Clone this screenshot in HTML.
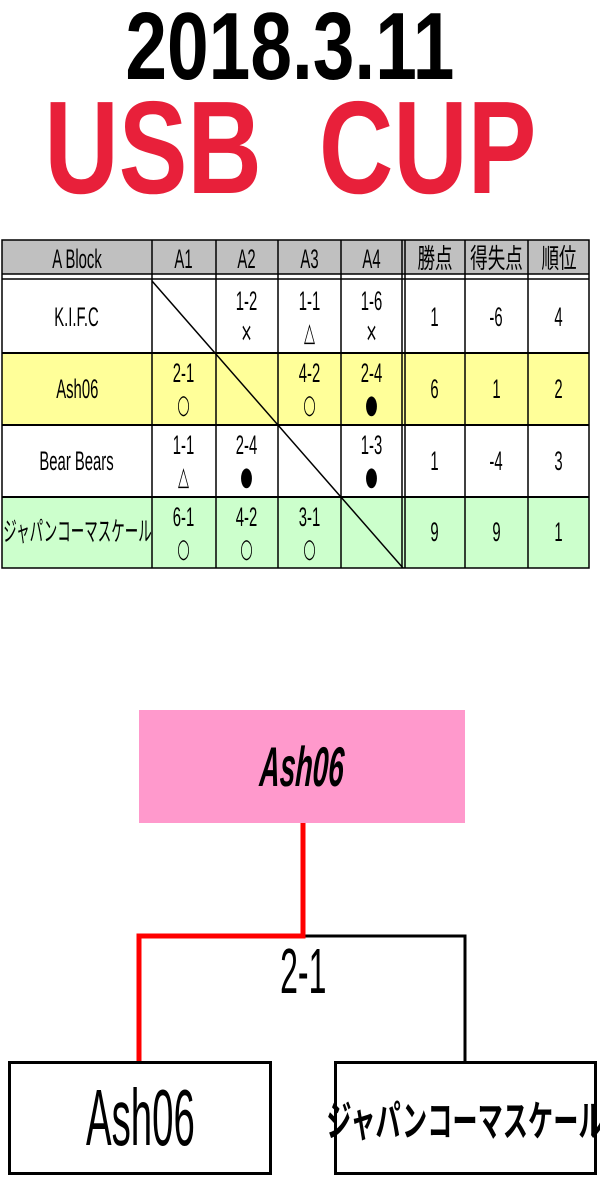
<!DOCTYPE html>
<html><head><meta charset="utf-8"><style>
body{margin:0;width:600px;height:1177px;background:#fff;position:relative;overflow:hidden;font-family:"Liberation Sans","Noto Sans CJK JP",sans-serif}
.a{position:absolute}
.c{position:absolute;display:flex;flex-direction:column;align-items:center;justify-content:center;text-align:center;white-space:nowrap}
.n{display:inline-block;transform:scaleX(.55)}
.t{font-size:27px;line-height:31px}
.s{font-size:26px;line-height:28px;font-family:"DejaVu Sans",sans-serif}
</style></head><body>
<div class="c" style="left:-110px;top:2px;width:800px;height:90px;font-weight:bold;font-size:96px"><span class="n" style="transform:scaleX(.78)">2018.3.11</span></div>
<div class="c" style="left:-100px;top:88px;width:780px;height:118px;font-weight:bold;font-size:132px;color:#e8203a"><span class="n" style="transform:scaleX(.78)">USB&nbsp;&nbsp;CUP</span></div>

<svg class="a" style="left:0;top:0" width="600" height="600">
<rect x="2" y="240" width="587" height="34" fill="#c0c0c0"/>
<rect x="2" y="281" width="587" height="72" fill="#fff"/>
<rect x="2" y="353" width="587" height="72" fill="#ffff99"/>
<rect x="2" y="425" width="587" height="72" fill="#fff"/>
<rect x="2" y="497" width="587" height="71" fill="#ccffcc"/>
<g stroke="#000" stroke-width="1.5" fill="none">
<rect x="2" y="240" width="587" height="328"/>
<line x1="2" y1="274" x2="589" y2="274"/>
<line x1="2" y1="279" x2="589" y2="279"/>
<line x1="2" y1="353" x2="589" y2="353" stroke-width="2"/>
<line x1="2" y1="425" x2="589" y2="425" stroke-width="2"/>
<line x1="2" y1="497" x2="589" y2="497" stroke-width="2"/>
<line x1="152" y1="240" x2="152" y2="568"/>
<line x1="216" y1="240" x2="216" y2="568"/>
<line x1="278" y1="240" x2="278" y2="568"/>
<line x1="341" y1="240" x2="341" y2="568"/>
<line x1="402" y1="240" x2="402" y2="568"/>
<line x1="405" y1="240" x2="405" y2="568"/>
<line x1="465" y1="240" x2="465" y2="568"/>
<line x1="528" y1="240" x2="528" y2="568"/>
<line x1="152" y1="281" x2="403" y2="568"/>
</g>
</svg>

<div class="c t" style="left:2px;top:240px;width:150px;height:38px"><span class="n">A Block</span></div>
<div class="c t" style="left:152px;top:240px;width:64px;height:38px"><span class="n">A1</span></div>
<div class="c t" style="left:216px;top:240px;width:62px;height:38px"><span class="n">A2</span></div>
<div class="c t" style="left:278px;top:240px;width:63px;height:38px"><span class="n">A3</span></div>
<div class="c t" style="left:341px;top:240px;width:62px;height:38px"><span class="n">A4</span></div>
<div class="c t" style="left:405px;top:240px;width:60px;height:38px"><span class="n" style="transform:scaleX(.65)">勝点</span></div>
<div class="c t" style="left:465px;top:240px;width:63px;height:38px"><span class="n" style="transform:scaleX(.65)">得失点</span></div>
<div class="c t" style="left:528px;top:240px;width:61px;height:38px"><span class="n" style="transform:scaleX(.65)">順位</span></div>

<div class="c t" style="left:2px;top:281px;width:150px;height:72px"><span class="n">K.I.F.C</span></div>
<div class="c t" style="left:2px;top:353px;width:150px;height:72px"><span class="n">Ash06</span></div>
<div class="c t" style="left:2px;top:425px;width:150px;height:72px"><span class="n">Bear Bears</span></div>
<div class="c t" style="left:-60px;top:497px;width:274px;height:71px"><span class="n" style="transform:scaleX(.5)">ジャパンコーマスケール</span></div>

<div class="c t" style="left:216px;top:281px;width:62px;height:72px"><span class="n">1-2<br><span class="s">×</span></span></div>
<div class="c t" style="left:278px;top:281px;width:63px;height:72px"><span class="n">1-1<br><span class="s">△</span></span></div>
<div class="c t" style="left:341px;top:281px;width:62px;height:72px"><span class="n">1-6<br><span class="s">×</span></span></div>
<div class="c t" style="left:405px;top:281px;width:60px;height:72px"><span class="n">1</span></div>
<div class="c t" style="left:465px;top:281px;width:63px;height:72px"><span class="n">-6</span></div>
<div class="c t" style="left:528px;top:281px;width:61px;height:72px"><span class="n">4</span></div>

<div class="c t" style="left:152px;top:353px;width:64px;height:72px"><span class="n">2-1<br><span class="s">○</span></span></div>
<div class="c t" style="left:278px;top:353px;width:63px;height:72px"><span class="n">4-2<br><span class="s">○</span></span></div>
<div class="c t" style="left:341px;top:353px;width:62px;height:72px"><span class="n">2-4<br><span class="s">●</span></span></div>
<div class="c t" style="left:405px;top:353px;width:60px;height:72px"><span class="n">6</span></div>
<div class="c t" style="left:465px;top:353px;width:63px;height:72px"><span class="n">1</span></div>
<div class="c t" style="left:528px;top:353px;width:61px;height:72px"><span class="n">2</span></div>

<div class="c t" style="left:152px;top:425px;width:64px;height:72px"><span class="n">1-1<br><span class="s">△</span></span></div>
<div class="c t" style="left:216px;top:425px;width:62px;height:72px"><span class="n">2-4<br><span class="s">●</span></span></div>
<div class="c t" style="left:341px;top:425px;width:62px;height:72px"><span class="n">1-3<br><span class="s">●</span></span></div>
<div class="c t" style="left:405px;top:425px;width:60px;height:72px"><span class="n">1</span></div>
<div class="c t" style="left:465px;top:425px;width:63px;height:72px"><span class="n">-4</span></div>
<div class="c t" style="left:528px;top:425px;width:61px;height:72px"><span class="n">3</span></div>

<div class="c t" style="left:152px;top:497px;width:64px;height:71px"><span class="n">6-1<br><span class="s">○</span></span></div>
<div class="c t" style="left:216px;top:497px;width:62px;height:71px"><span class="n">4-2<br><span class="s">○</span></span></div>
<div class="c t" style="left:278px;top:497px;width:63px;height:71px"><span class="n">3-1<br><span class="s">○</span></span></div>
<div class="c t" style="left:405px;top:497px;width:60px;height:71px"><span class="n">9</span></div>
<div class="c t" style="left:465px;top:497px;width:63px;height:71px"><span class="n">9</span></div>
<div class="c t" style="left:528px;top:497px;width:61px;height:71px"><span class="n">1</span></div>

<svg class="a" style="left:0;top:700px" width="600" height="477">
<rect x="139" y="10" width="326" height="113" fill="#ff99cc"/>
<polyline points="303,236 465,236 465,361" fill="none" stroke="#000" stroke-width="3"/>
<polyline points="303,123 303,236 139,236 139,363" fill="none" stroke="#f00" stroke-width="5"/>
<rect x="9.5" y="362.5" width="261" height="111" fill="#fff" stroke="#000" stroke-width="3"/>
<rect x="335.5" y="362.5" width="260" height="111" fill="#fff" stroke="#000" stroke-width="3"/>
</svg>
<div class="c" style="left:139px;top:710px;width:326px;height:113px;font-size:56px;font-weight:bold;font-style:italic"><span class="n" style="transform:scaleX(.5) skewX(-6deg)">Ash06</span></div>
<div class="c" style="left:203px;top:938px;width:200px;height:66px;font-size:64px"><span class="n" style="transform:scaleX(.5)">2-1</span></div>
<div class="c" style="left:11px;top:1064px;width:258px;height:108px;font-size:80px"><span class="n" style="transform:scaleX(.48)">Ash06</span></div>
<div class="c" style="left:280px;top:1064px;width:370px;height:108px;font-size:42px;font-weight:bold"><span class="n" style="transform:scaleX(.6)">ジャパンコーマスケール</span></div>
</body></html>
